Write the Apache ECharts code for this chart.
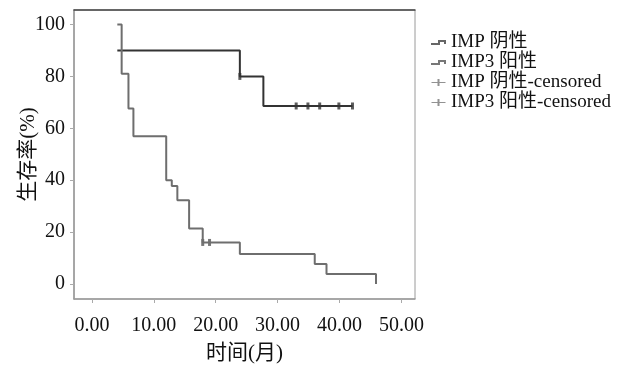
<!DOCTYPE html>
<html>
<head>
<meta charset="utf-8">
<script src="https://cdn.jsdelivr.net/npm/echarts@6/dist/echarts.min.js"></script>
<style>html,body{margin:0;padding:0;background:#fff}#c{width:632px;height:368px}</style>
</head>
<body>
<div id="c"></div>
<script>
// Kaplan–Meier curves: [time (months), survival (%)]
const negName = "IMP 阴性";
const posName = "IMP3 阳性";
const negCensName = "IMP 阴性-censored";
const posCensName = "IMP3 阳性-censored";

const negCurve = [[4.1, 90], [23.9, 80], [27.7, 68.6], [42.1, 68.6]];
const posCurve = [[4.1, 100], [4.8, 81], [5.9, 67.6], [6.7, 56.9], [12.0, 40.0], [12.9, 37.8],
  [13.8, 32.3], [15.7, 21.4], [17.9, 16.0], [23.9, 11.5], [36.0, 7.7], [37.9, 3.8], [45.9, 0]];
const negCensored = [[23.9, 80], [33.0, 68.6], [34.9, 68.6], [36.8, 68.6], [39.9, 68.6], [42.1, 68.6]];
const posCensored = [[17.9, 16.0], [19.0, 16.0]];

const xTicks = [0, 10, 20, 30, 40, 50];
const yTicks = [0, 20, 40, 60, 80, 100];

const FONT = "'Liberation Serif','Noto Sans CJK SC',serif";
const lineIcon = 'path://M0,3 L7,3 L7,0 L15,0 L15,4 L13,4 L13,2 L9,2 L9,5 L0,5 Z';
const plusIcon = 'path://M0,4 L6,4 L6,1 L8,1 L8,4 L14,4 L14,5 L8,5 L8,8 L6,8 L6,5 L0,5 Z';

const chart = echarts.init(document.getElementById('c'), null, {renderer: 'canvas'});
chart.setOption({
  animation: false,
  backgroundColor: '#fff',
  grid: {left: 74, top: 10, width: 341, height: 289, show: true, borderColor: '#9a9a9a', borderWidth: 1,
    containLabel: false, outerBoundsMode: 'none'},
  legend: {
    orient: 'vertical', left: 426, top: 28, itemGap: 1, itemWidth: 15, itemHeight: 7, itemTextGap: 5,
    textStyle: {fontFamily: FONT, fontSize: 19, color: '#111'},
    data: [
      {name: negName, icon: lineIcon, itemStyle: {color: '#666'}},
      {name: posName, icon: lineIcon, itemStyle: {color: '#777'}},
      {name: negCensName, icon: plusIcon, itemStyle: {color: '#777'}},
      {name: posCensName, icon: plusIcon, itemStyle: {color: '#777'}}
    ]
  },
  xAxis: [{
    type: 'value', min: -2.9, max: 52.2,
    name: '时间(月)', nameLocation: 'middle', nameGap: 44, nameMoveOverlap: false,
    nameTextStyle: {fontFamily: FONT, fontSize: 21, color: '#111'},
    axisLine: {show: true, onZero: false, lineStyle: {color: '#9a9a9a', width: 1.5}},
    axisTick: {show: true, length: 4, customValues: xTicks, lineStyle: {color: '#aaa'}},
    axisLabel: {customValues: xTicks, margin: 17, fontFamily: FONT, fontSize: 20, color: '#111',
      formatter: v => v.toFixed(2)},
    splitLine: {show: false}
  }, {
    type: 'value', min: -2.9, max: 52.2, position: 'top',
    axisLine: {show: true, onZero: false, lineStyle: {color: '#444', width: 1.5}},
    axisTick: {show: false}, axisLabel: {show: false}, splitLine: {show: false}
  }],
  yAxis: {
    type: 'value', min: -5.8, max: 105.6,
    name: '生存率(%)', nameLocation: 'middle', nameGap: 35, nameRotate: 90, nameMoveOverlap: false,
    nameTextStyle: {fontFamily: FONT, fontSize: 21, color: '#111'},
    axisLine: {show: true, onZero: false, lineStyle: {color: '#9a9a9a', width: 1.5}},
    axisTick: {show: true, length: 4, customValues: yTicks, lineStyle: {color: '#aaa'}},
    axisLabel: {customValues: yTicks, margin: 9, fontFamily: FONT, fontSize: 20, color: '#111'},
    splitLine: {show: false}
  },
  series: [
    {name: negName, type: 'line', step: 'end', data: negCurve, showSymbol: false,
      lineStyle: {color: '#333', width: 2}, itemStyle: {color: '#333'}},
    {name: posName, type: 'line', step: 'end', data: posCurve, showSymbol: false,
      lineStyle: {color: '#6e6e6e', width: 2}, itemStyle: {color: '#6e6e6e'}},
    {name: negCensName, type: 'scatter', data: negCensored, symbol: 'rect', symbolSize: [3, 7],
      itemStyle: {color: '#333'}},
    {name: posCensName, type: 'scatter', data: posCensored, symbol: 'rect', symbolSize: [3, 7],
      itemStyle: {color: '#555'}}
  ]
});
</script>
</body>
</html>
